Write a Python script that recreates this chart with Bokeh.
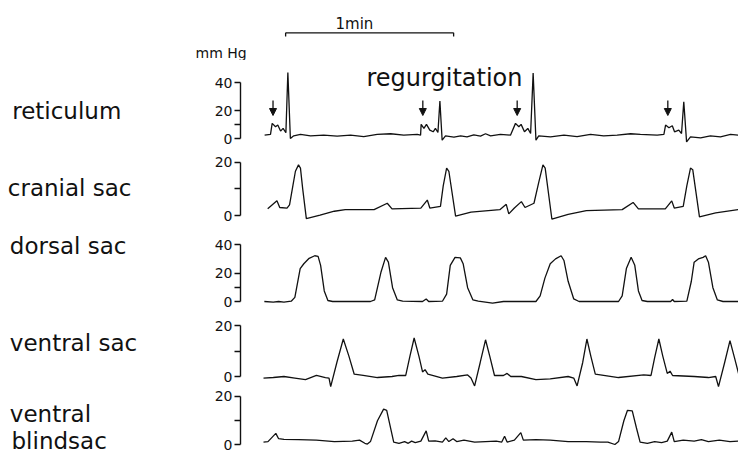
from bokeh.plotting import figure
from bokeh.layouts import column, row
from bokeh.models import Range1d, LinearAxis, FixedTicker, Label, Arrow, NormalHead, ColumnDataSource
from bokeh.embed import file_html
from bokeh.resources import INLINE

# ---------------- data (time in s, pressure in mmHg) ----------------
RET_T = [0.4, 2.5, 3.1, 4.3, 5.1, 6.1, 7.0, 8.0, 8.7, 9.6, 10.8, 13.2, 16.8, 21.5, 26.3, 31.1, 35.8,
         40.6, 45.4, 50.1, 54.9, 56.1, 56.3, 57.3, 58.2, 59.4, 60.6, 61.4, 62.3, 63.0, 63.8, 65.0,
         68.0, 70.4, 72.7, 75.1, 77.5, 79.3, 81.1, 84.6, 88.2, 90.0, 91.2, 92.0, 93.2, 94.4, 95.4,
         96.3, 97.3, 98.3, 102.5, 107.3, 112.0, 116.8, 121.5, 126.3, 131.1, 134.6, 140.6, 143.0,
         143.6, 144.8, 146.0, 146.8, 148.3, 149.3, 150.1, 151.1, 152.5, 156.1, 159.6, 163.2, 166.8,
         169.8, 171.5, 172.7, 173.9]
RET_P = [2.4, 2.9, 10.8, 8.4, 9.6, 5.3, 7.2, 4.1, 47.2, 0.0, 1.9, 2.9, 1.9, 2.4, 1.7, 2.4, 1.4,
         2.9, 3.4, 2.4, 2.9, 2.4, 10.1, 7.2, 10.1, 6.0, 4.8, 7.2, 4.3, 26.8, -1.2, 1.9,
         1.0, 1.9, 1.2, 2.6, 1.7, 3.4, 1.9, 2.9, 2.4, 10.8, 8.4, 10.1, 4.8, 7.2, 3.6,
         46.7, -1.2, 1.9, 1.2, 2.4, 1.4, 2.9, 1.9, 2.4, 3.4, 2.9, 2.4, 2.9,
         9.6, 7.7, 9.1, 4.8, 6.0, 3.6, 26.3, -2.4, 1.2, 0.5, 1.9, 1.2, 2.9,
         2.4, 3.6, 6.0, 3.6]

CRA_T = [1.5, 4.8, 5.8, 8.4, 9.3, 10.5, 11.4, 12.5, 13.2, 14.0, 15.3, 20.2, 25.3, 29.2, 39.5, 44.2,
         45.9, 56.2, 58.5, 59.4, 63.2, 64.2, 65.4, 66.2, 68.6, 74.1, 84.4, 86.7, 87.6, 89.6, 92.1,
         93.4, 96.6, 98.3, 99.8, 100.6, 103.0, 108.8, 115.3, 128.1, 132.0, 133.9, 143.5, 145.8,
         146.7, 149.9, 151.2, 152.5, 153.3, 155.7, 161.5, 170.5, 173.7, 175.0]
CRA_P = [2.5, 5.5, 3.0, 2.8, 4.0, 11.2, 16.6, 19.0, 17.8, 10.0, -1.2, 0.1, 1.6, 2.2, 2.2, 4.6,
         2.5, 2.8, 5.8, 2.8, 3.4, 11.2, 17.8, 16.6, -0.2, 1.3, 2.2, 4.2, 0.6, 2.8, 5.2,
         3.0, 4.6, 12.4, 19.0, 17.8, -1.4, 0.4, 1.8, 2.2, 4.9, 2.5, 2.5, 5.5,
         2.8, 3.4, 11.2, 17.8, 17.2, -0.5, 1.0, 2.4, 4.2, 2.8]

DOR_T = [0.3, 3.5, 5.4, 7.3, 9.9, 11.2, 13.1, 14.4, 16.3, 18.3, 19.5, 20.4, 21.7, 23.0, 24.7, 38.2,
         39.7, 42.0, 43.6, 44.6, 46.1, 47.8, 49.7, 56.8, 58.1, 59.0, 63.9, 65.4, 66.7, 68.4, 70.3,
         71.3, 72.9, 74.8, 76.7, 81.8, 85.7, 97.3, 98.8, 100.5, 102.4, 104.3, 106.3, 107.3, 108.8,
         110.8, 112.7, 126.8, 128.1, 129.6, 131.3, 132.6, 133.9, 135.2, 137.1, 145.4, 146.1, 146.7,
         151.2, 152.8, 153.8, 155.3, 157.0, 157.9, 158.9, 160.5, 162.1, 164.1, 173.1, 173.7, 174.6,
         175.4]
DOR_P = [0.0, -0.4, 0.0, -0.4, 0.2, 2.9, 23.1, 26.5, 30.3, 32.1, 31.7, 25.4, 7.4, 0.7, 0.0, 0.0,
         1.1, 20.9, 31.0, 27.6, 9.7, 1.1, 0.2, 0.0, 1.8, 0.0, 0.2, 5.2, 25.4, 31.0, 30.6,
         26.5, 9.7, 1.1, 0.2, -1.1, 0.0, 0.0, 4.0, 16.4, 26.5, 29.9, 32.1, 28.8, 14.2,
         1.8, 0.0, 0.0, 4.0, 23.1, 31.0, 25.4, 7.4, 0.7, 0.0, 0.0, 1.4, 0.0,
         0.2, 14.2, 27.6, 29.9, 31.0, 32.1, 27.6, 9.7, 1.1, 0.0, 0.0, 1.4, 0.0,
         0.0]

VEN_T = [0.0, 3.5, 7.3, 11.2, 15.0, 18.9, 22.1, 23.4, 24.0, 26.2, 28.5, 30.5, 32.4, 35.6, 40.7,
         45.9, 48.4, 50.8, 52.3, 53.8, 55.5, 56.8, 57.7, 58.7, 63.9, 69.0, 72.9, 74.1, 75.4, 77.4,
         79.3, 80.8, 82.5, 85.7, 87.0, 88.3, 92.1, 97.3, 102.4, 108.8, 110.8, 112.0, 114.0, 115.5,
         116.9, 118.5, 126.8, 135.8, 138.4, 139.7, 141.2, 142.6, 144.2, 145.2, 146.1, 153.8, 158.9,
         161.5, 162.5, 164.7, 166.6, 168.2, 169.8, 172.4, 175.0]
VEN_P = [-0.6, -0.4, 0.0, -0.6, -1.2, 0.4, -0.4, -0.6, -4.0, 5.5, 14.7, 8.0, 0.9, 0.4, -0.4,
         0.0, 0.4, 0.4, 8.0, 15.1, 8.0, 1.8, 2.7, 0.9, -0.6, 0.0, 0.6, -0.6, -3.7, 5.5,
         14.4, 8.0, 0.4, 0.4, 1.2, 0.0, 0.0, -1.2, -0.9, 0.0, -0.6, -3.7, 5.5, 14.7,
         8.0, 0.9, -0.4, 0.6, 0.4, 7.4, 14.7, 8.0, 1.2, 2.1, 0.4, 0.0, -0.4,
         0.0, -4.0, 5.5, 14.1, 7.4, 0.6, -0.4, 0.4]

BLI_T = [0.0, 1.6, 4.4, 5.4, 7.3, 12.5, 18.9, 25.3, 31.7, 34.3, 36.2, 37.1, 38.2, 40.7, 42.9, 44.0,
         45.2, 46.5, 48.4, 50.4, 51.7, 52.9, 54.2, 56.2, 58.1, 59.0, 61.3, 63.9, 65.1, 66.2, 67.7,
         69.0, 71.6, 75.4, 79.3, 83.1, 85.1, 86.1, 87.0, 89.6, 91.9, 92.8, 97.3, 102.4, 108.8,
         115.3, 120.4, 123.0, 125.5, 126.8, 128.7, 130.0, 131.7, 133.2, 134.5, 137.1, 139.7, 142.2,
         144.2, 145.8, 146.7, 149.9, 153.8, 156.4, 158.9, 162.8, 166.6, 170.5, 172.8, 173.7, 174.6,
         175.4]
BLI_P = [1.0, 1.2, 4.6, 2.4, 2.1, 2.0, 1.8, 1.2, 1.4, 1.8, 0.5, 0.2, 1.2, 9.8, 14.6, 14.1,
         7.8, 1.0, 0.5, 1.2, 0.5, 1.4, 0.8, 1.4, 5.6, 1.4, 1.5, 1.0, 2.7, 1.2, 2.4,
         1.2, 1.8, 1.0, 1.2, 1.4, 1.0, 3.4, 1.0, 1.8, 4.9, 1.8, 2.0, 1.8, 1.2,
         1.2, 1.0, 1.0, 0.0, 1.2, 9.8, 14.1, 13.9, 6.8, 1.0, 0.5, 1.2, 0.8,
         1.4, 5.1, 1.2, 1.8, 1.4, 2.0, 1.2, 1.8, 1.2, 1.5, 1.2, 3.4, 1.0,
         1.2]

ARROW_T = [3.4, 56.9, 90.6, 144.4]        # marked regurgitation onsets (s)
SCALE_BAR_START = 7.9                      # s
SCALE_BAR_SECONDS = 60                     # "1min"

NAMES = [["reticulum"], ["cranial sac"], ["dorsal sac"], ["ventral sac"], ["ventral", "blindsac"]]
SERIES = [(RET_T, RET_P), (CRA_T, CRA_P), (DOR_T, DOR_P), (VEN_T, VEN_P), (BLI_T, BLI_P)]
TICKS = [[0, 10, 20, 40], [0, 10, 20], [0, 10, 20, 40], [0, 10, 20], [0, 10, 20]]
TICK_LABELS = [{0: "0", 10: "", 20: "20", 40: "40"}, {0: "0", 10: "", 20: "20"},
               {0: "0", 10: "", 20: "20", 40: "40"}, {0: "0", 10: "", 20: "20"},
               {0: "0", 10: "", 20: "20"}]

# ---------------- layout (page pixels) ----------------
W, H = 738, 452
TOP_H = 60                 # strip with scale bar and unit
NAME_W = 200               # column with the compartment names
PX_PER_S = 2.8
T0_PX = 263
FRAME_L = 240
# top, bottom, zero-line px, px per mmHg
PANELS = [(60, 150, 138, 1.40), (150, 232, 215, 2.665), (232, 310, 301, 1.425),
          (310, 388, 376, 2.55), (388, 452, 444, 2.425)]
NAME_POS = [[(11.7, 110)], [(7.3, 187)], [(9.3, 245.5)], [(9.3, 342)], [(9.3, 413), (11, 440)]]

FONT = "DejaVu Sans"
INK = "#111111"


def tx(px):
    return (px - T0_PX) / PX_PER_S


def bare(p):
    p.outline_line_color = None
    p.grid.visible = False
    p.background_fill_color = "white"
    p.border_fill_color = "white"
    return p


# --- top strip: 1 min bar and unit ---
top = bare(figure(width=W, height=TOP_H, title=None,
                  x_range=Range1d(tx(0), tx(W)), y_range=Range1d(TOP_H, 0),
                  x_axis_location=None, y_axis_location=None,
                  output_backend="svg", toolbar_location=None,
                  min_border_left=0, min_border_right=0, min_border_top=0, min_border_bottom=0))
xs0 = SCALE_BAR_START
xs1 = SCALE_BAR_START + SCALE_BAR_SECONDS
top.segment(x0=[xs0, xs0, xs1], y0=[32.3, 32.3, 32.3], x1=[xs1, xs0, xs1], y1=[32.3, 36, 36],
            line_color=INK, line_width=1.3)
top.add_layout(Label(x=tx(335), y=23, text="1min", text_font=FONT, text_font_size="15px",
                     text_color=INK, text_baseline="alphabetic"))
top.add_layout(Label(x=tx(195), y=52, text="mm Hg", text_font=FONT, text_font_size="14px",
                     text_color=INK, text_baseline="alphabetic"))

# --- names column ---
names = bare(figure(width=NAME_W, height=H - TOP_H, title=None,
                    x_range=Range1d(0, NAME_W), y_range=Range1d(H, TOP_H),
                    x_axis_location=None, y_axis_location=None,
                    output_backend="svg", toolbar_location=None,
                    min_border_left=0, min_border_right=0, min_border_top=0, min_border_bottom=0))
for nm, pos in zip(NAMES, NAME_POS):
    for text, (lx, ly) in zip(nm, pos):
        names.add_layout(Label(x=lx, y=ly, text=text, text_font=FONT, text_font_size="23px",
                               text_color=INK, text_align="left", text_baseline="alphabetic"))

# --- trace panels ---
figs = []
for i, ((ptop, pbot, y0, g), (ts, ps)) in enumerate(zip(PANELS, SERIES)):
    def ty(py, y0=y0, g=g):
        return (y0 - py) / g
    p = bare(figure(width=W - NAME_W, height=pbot - ptop, title=None,
                    x_range=Range1d(tx(FRAME_L), tx(W)),
                    y_range=Range1d(ty(pbot), ty(ptop)),
                    x_axis_location=None, y_axis_location=None,
                    output_backend="svg", toolbar_location=None,
                    min_border_left=FRAME_L - NAME_W, min_border_right=0,
                    min_border_top=0, min_border_bottom=0))

    ax = LinearAxis(ticker=FixedTicker(ticks=TICKS[i], minor_ticks=[]),
                    bounds=(0, max(TICKS[i])),
                    major_label_overrides=TICK_LABELS[i])
    ax.axis_line_color = INK
    ax.axis_line_width = 1.4
    ax.major_tick_line_color = INK
    ax.major_tick_line_width = 1.4
    ax.major_tick_out = 6
    ax.major_tick_in = 0
    ax.minor_tick_out = 0
    ax.major_label_standoff = 2
    ax.major_label_text_font = FONT
    ax.major_label_text_font_size = "14px"
    ax.major_label_text_color = INK
    p.add_layout(ax, "left")

    p.line(ts, ps, line_color=INK, line_width=1.3)

    if i == 0:
        src = ColumnDataSource(dict(x=ARROW_T, y0=[ty(100)] * len(ARROW_T),
                                    y1=[ty(115)] * len(ARROW_T)))
        p.add_layout(Arrow(x_start="x", y_start="y0", x_end="x", y_end="y1", source=src,
                           line_color=INK, line_width=1.3,
                           end=NormalHead(size=7, fill_color=INK, line_color=INK)))
        p.add_layout(Label(x=tx(366), y=ty(77.5), text="regurgitation", text_font=FONT,
                           text_font_size="24px", text_color=INK, text_baseline="alphabetic"))
    figs.append(p)

layout = column(top, row(names, column(*figs, spacing=0), spacing=0), spacing=0)
open("out.html", "w").write(file_html(layout, INLINE))
